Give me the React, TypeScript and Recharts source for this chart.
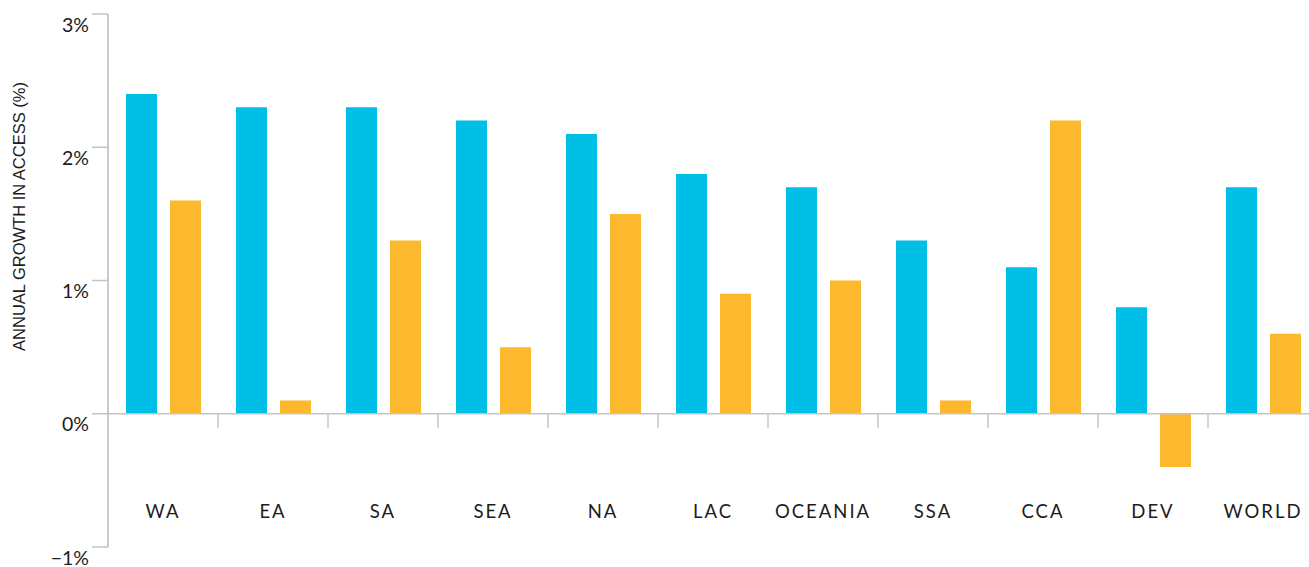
import { Bar, BarChart, ReferenceLine, XAxis, YAxis } from "recharts"

const categories = ["WA", "EA", "SA", "SEA", "NA", "LAC", "OCEANIA", "SSA", "CCA", "DEV", "WORLD"]
const blueValues = [2.4, 2.3, 2.3, 2.2, 2.1, 1.8, 1.7, 1.3, 1.1, 0.8, 1.7]
const orangeValues = [1.6, 0.1, 1.3, 0.5, 1.5, 0.9, 1.0, 0.1, 2.2, -0.4, 0.6]
const yTicks = [-1, 0, 1, 2, 3]

const data = categories.map((name, i) => ({
    name,
    blue: blueValues[i],
    orange: orangeValues[i],
}))

// chart geometry (the source chart is a bit wider than the window, so it gets clipped)
const CHART_W = 1318
const CHART_H = 567
const TOP = 14
const AXIS_W = 108
const X_AXIS_H = 20
const PLOT_H = CHART_H - TOP - X_AXIS_H
const PLOT_W = CHART_W - AXIS_W
const Y_MIN = -1
const Y_MAX = 3
const zeroY = TOP + (PLOT_H * (Y_MAX - 0)) / (Y_MAX - Y_MIN)
const band = PLOT_W / categories.length

const GRAY = "#c4c4c4"
const TEXT = "#1c1c1c"

const fmt = (v: number) => (v < 0 ? "\u2212" + Math.abs(v) : String(v)) + "%"

const YTick = ({ x, y, payload }: any) => (
    <text x={x} y={y + 10} textAnchor="end" dominantBaseline="central"
        fontSize={19.5} fontFamily="Lato" fill={TEXT}>
        {fmt(payload.value)}
    </text>
)

const XTick = ({ x, y, payload, index }: any) => (
    <g>
        {index > 0 && (
            <line x1={x - band / 2} x2={x - band / 2} y1={zeroY} y2={zeroY + 14}
                stroke={GRAY} strokeWidth={1.5} />
        )}
        <text x={x} y={y - 36} textAnchor="middle" dominantBaseline="central"
            fontSize={18.5} fontFamily="Lato" letterSpacing={2} fill={TEXT}>
            {payload.value}
        </text>
    </g>
)

export default function App() {
    return <div style={{ position: "absolute", left: 0, top: 0, width: 1309, height: CHART_H, overflow: "hidden", background: "#fff" }}>
        <BarChart width={CHART_W} height={CHART_H} data={data}
            margin={{ top: TOP, right: 0, bottom: 0, left: 0 }}
            barSize={31} barGap={13}>
            <XAxis dataKey="name" height={X_AXIS_H} axisLine={false} tickLine={false}
                tickSize={0} tickMargin={0} interval={0} tick={<XTick />} />
            <YAxis width={AXIS_W} domain={[Y_MIN, Y_MAX]} ticks={yTicks} interval={0}
                axisLine={{ stroke: "#b8b8b8", strokeWidth: 1.5 }}
                tickLine={{ stroke: GRAY, strokeWidth: 1.5 }}
                tickSize={16} tickMargin={3} tick={<YTick />}
                label={{ value: "ANNUAL GROWTH IN ACCESS (%)", angle: -90, position: "center",
                    dx: -35, dy: -64, fontSize: 16.5, fontFamily: "Liberation Sans", fill: TEXT }} />
            <Bar dataKey="blue" fill="#00bfe6" isAnimationActive={false} />
            <Bar dataKey="orange" fill="#fdb92e" isAnimationActive={false} />
            <ReferenceLine y={0} stroke={GRAY} strokeWidth={1.5} />
        </BarChart>
    </div>
}
